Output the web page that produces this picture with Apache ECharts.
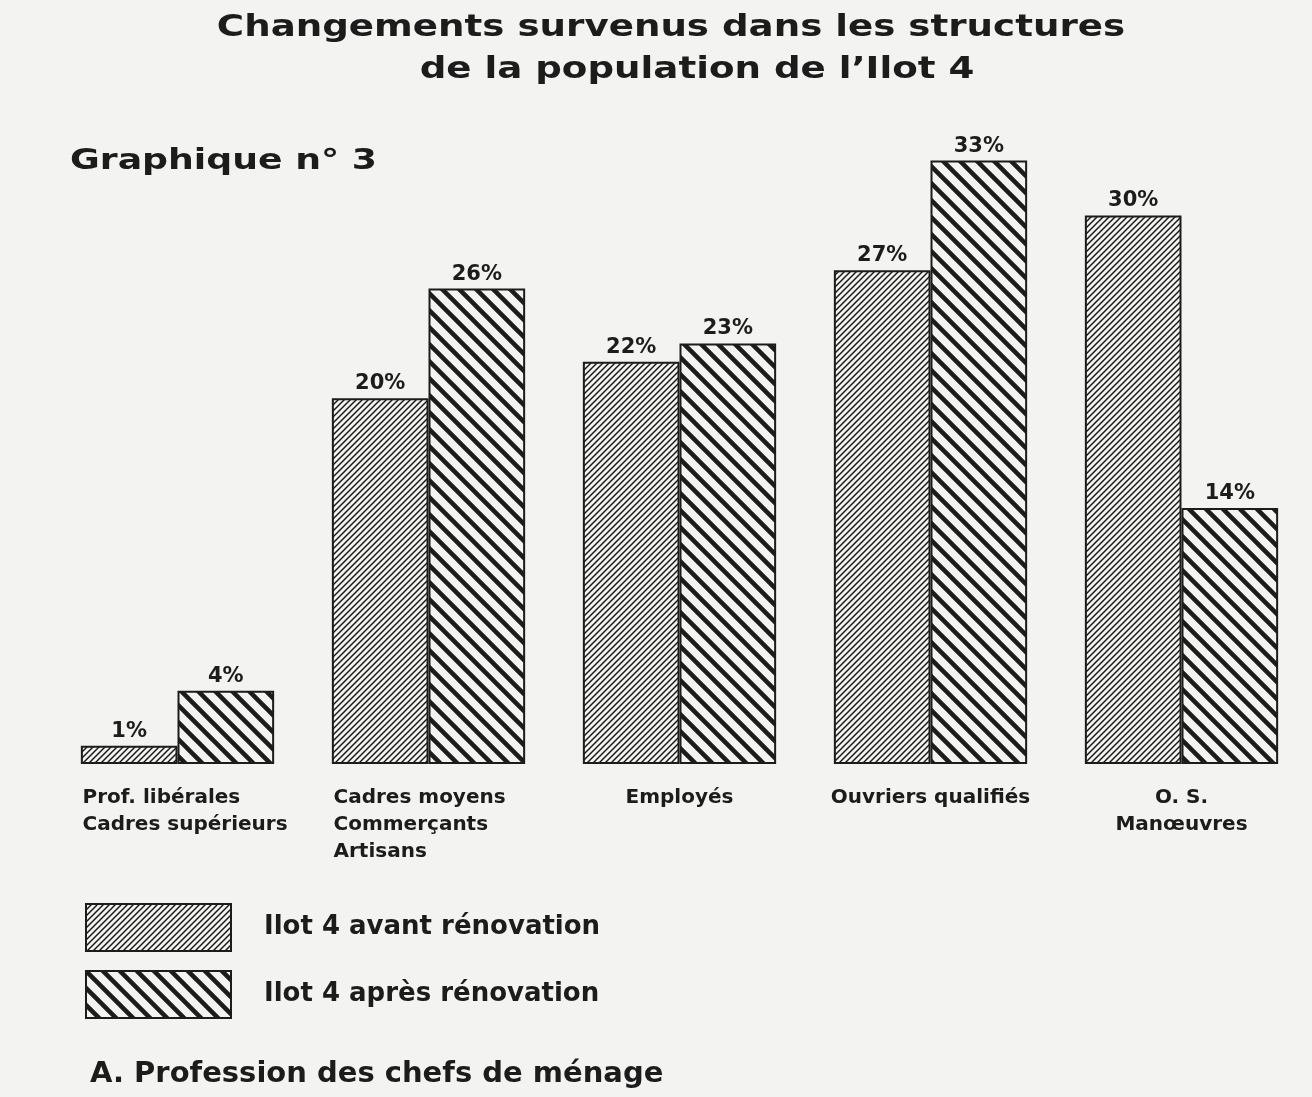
<!DOCTYPE html>
<html>
<head>
<meta charset="utf-8">
<script src="https://cdn.jsdelivr.net/npm/echarts@6/dist/echarts.min.js"></script>
<style>
    html, body { margin: 0; padding: 0; background: #f3f3f1; }
    #main { width: 1312px; height: 1097px; }
</style>
</head>
<body>
<div id="main"></div>
<script>
// categories (x axis), one entry per group of bars
var categories = ['Prof. libérales\nCadres supérieurs', 'Cadres moyens\nCommerçants\nArtisans', 'Employés', 'Ouvriers qualifiés', 'O. S.\nManœuvres'];
// pourcentages
var avantValues = [1, 20, 22, 27, 30];
var apresValues = [4, 26, 23, 33, 14];
var seriesNames = ['Ilot 4 avant rénovation', 'Ilot 4 après rénovation'];

(function (window) {
    var paper = '#f3f3f1';
    var ink = '#1c1c1c';
    var font = '"DejaVu Sans", "Liberation Sans", sans-serif';

    ///hachures: "/" fines pour avant, "\" larges pour après
    var makeHatch = function (size, width, dir) {
        var c = document.createElement('canvas');
        c.width = size;
        c.height = size;
        var ctx = c.getContext('2d');
        ctx.fillStyle = paper;
        ctx.fillRect(0, 0, size, size);
        ctx.strokeStyle = ink;
        ctx.lineWidth = width;
        ctx.beginPath();
        // lignes prolongées hors du motif pour éviter les coupures aux bords
        for (var k = -2; k <= 2; k++) {
            if (dir === '/') {
                ctx.moveTo(k * size - size, 2 * size);
                ctx.lineTo(k * size + 2 * size, -size);
            } else {
                ctx.moveTo(k * size - size, -size);
                ctx.lineTo(k * size + 2 * size, 2 * size);
            }
        }
        ctx.stroke();
        return { image: c, repeat: 'repeat' };
    };

    var fineHatch = makeHatch(6, 1.5, '/');
    var wideHatch = makeHatch(17, 4.5, '\\');

    var labelFormatter = function (value, index) {
        var lines = value.split('\n');
        var tag = index < 2 ? 'l' : 'c';
        return lines.map(function (s) { return '{' + tag + '|' + s + '}'; }).join('\n');
    };

    var barLabel = {
        show: true,
        position: 'top',
        distance: 4,
        formatter: '{c}%',
        color: ink,
        fontFamily: font,
        fontWeight: 'bold',
        fontSize: 21
    };

    var myChart = echarts.init(document.getElementById('main'), null, { renderer: 'canvas' });
    var option = {
        backgroundColor: paper,
        animation: false,
        grid: { left: 52, right: 5, top: 124, bottom: 333 },
        xAxis: {
            type: 'category',
            data: categories,
            axisLine: { show: false },
            axisTick: { show: false },
            axisLabel: {
                margin: 20,
                interval: 0,
                formatter: labelFormatter,
                rich: {
                    l: { width: 190, align: 'left', color: ink, fontFamily: font, fontWeight: 'bold', fontSize: 20, lineHeight: 27 },
                    c: { align: 'center', color: ink, fontFamily: font, fontWeight: 'bold', fontSize: 20, lineHeight: 27 }
                }
            }
        },
        yAxis: {
            type: 'value',
            min: 0,
            max: 35,
            show: false
        },
        legend: {
            orient: 'vertical',
            left: 80,
            top: 898,
            itemWidth: 145,
            itemHeight: 47,
            itemGap: 18,
            icon: 'rect',
            itemStyle: { borderColor: ink, borderWidth: 2 },
            textStyle: { color: ink, fontFamily: font, fontWeight: 'bold', fontSize: 26, padding: [0, 0, 0, 28] },
            data: seriesNames
        },
        series: [{
            name: seriesNames[0],
            type: 'bar',
            barGap: '0%',
            barCategoryGap: '23%',
            data: avantValues,
            itemStyle: { color: fineHatch, borderColor: ink, borderWidth: 2 },
            label: barLabel
        }, {
            name: seriesNames[1],
            type: 'bar',
            barGap: '0%',
            barCategoryGap: '23%',
            data: apresValues,
            itemStyle: { color: wideHatch, borderColor: ink, borderWidth: 2 },
            label: barLabel
        }],
        graphic: [{
            type: 'text', x: 671, y: 12, scaleX: 1.2,
            style: { text: 'Changements survenus dans les structures', align: 'center', verticalAlign: 'top', fill: ink, font: 'bold 31px ' + font }
        }, {
            type: 'text', x: 697, y: 54, scaleX: 1.2,
            style: { text: 'de la population de l\u2019Ilot 4', align: 'center', verticalAlign: 'top', fill: ink, font: 'bold 31px ' + font }
        }, {
            type: 'text', x: 70, y: 147, scaleX: 1.25,
            style: { text: 'Graphique n° 3', align: 'left', verticalAlign: 'top', fill: ink, font: 'bold 29px ' + font }
        }, {
            type: 'text', x: 90, y: 1060,
            style: { text: 'A. Profession des chefs de ménage', align: 'left', verticalAlign: 'top', fill: ink, font: 'bold 29px ' + font }
        }]
    };
    myChart.setOption(option);
})(window);
</script>
</body>
</html>
